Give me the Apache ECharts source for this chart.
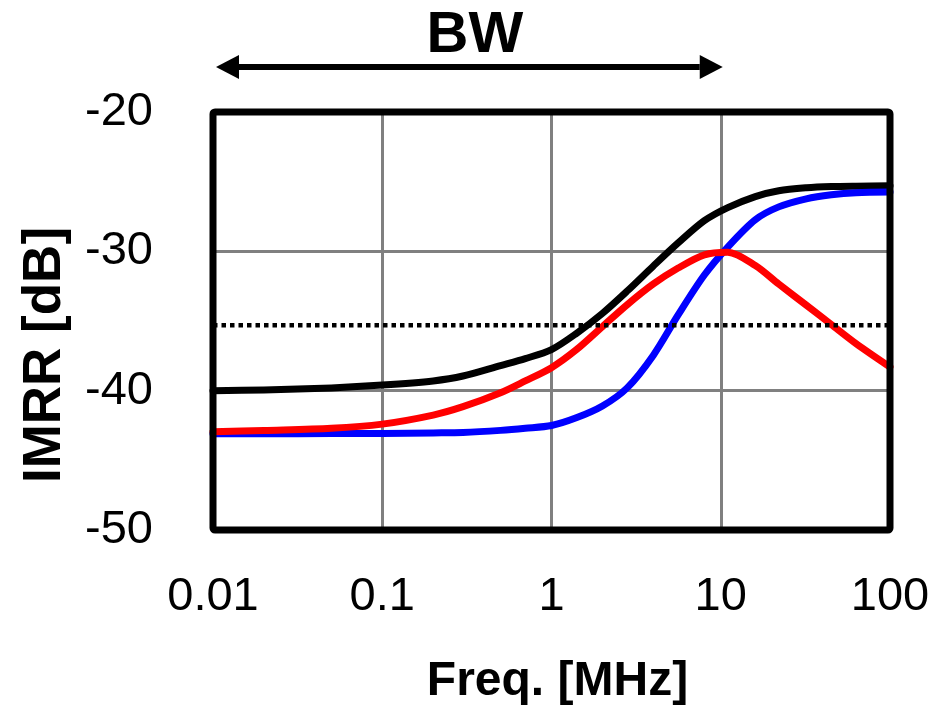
<!DOCTYPE html>
<html>
<head>
<meta charset="utf-8">
<script src="https://cdn.jsdelivr.net/npm/echarts@6/dist/echarts.min.js"></script>
<style>
  html, body { margin: 0; padding: 0; background: #ffffff; }
  #chart { width: 940px; height: 711px; }
</style>
</head>
<body>
<div id="chart"></div>
<script>
// Frequency sweep points (MHz) shared by the three IMRR traces
const freqMHz = [0.01, 0.02, 0.05, 0.1, 0.2, 0.3, 0.5, 0.7, 1, 1.4, 2, 2.8, 4, 5.6, 8, 11, 16, 22, 32, 45, 63, 100];

// IMRR traces (dB)
const imrrBlack = [-40.0, -39.95, -39.8, -39.6, -39.3, -38.95, -38.2, -37.7, -37.05, -35.9, -34.45, -32.85, -31.05, -29.4, -27.8, -26.86, -26.07, -25.65, -25.44, -25.35, -25.32, -25.3];
const imrrBlue  = [-43.1, -43.1, -43.08, -43.07, -43.03, -43.0, -42.85, -42.7, -42.5, -41.95, -41.1, -39.8, -37.45, -34.56, -31.7, -29.69, -27.73, -26.81, -26.23, -25.94, -25.79, -25.74];
const imrrRed   = [-42.95, -42.85, -42.7, -42.4, -41.75, -41.15, -40.15, -39.3, -38.35, -37.07, -35.4, -33.83, -32.34, -31.2, -30.25, -30.06, -31.02, -32.35, -33.86, -35.25, -36.62, -38.3];

// Reference level (dotted) and its frequency extent
const refLevel = -35.3;
const refSpan = [0.01, 115];

// Bandwidth arrow extent (MHz)
const bwSpan = [0.01, 10];

// Axis tick labels
const xTickLabels = ['0.01', '0.1', '1', '10', '100'];
const yTickLabels = ['-50', '-40', '-30', '-20'];

const pairs = (xs, ys) => xs.map((x, i) => [x, ys[i]]);

const chart = echarts.init(document.getElementById('chart'), null, { renderer: 'canvas' });

const traceStyle = (color) => ({
  type: 'line',
  smooth: 0.3,
  showSymbol: false,
  symbol: 'none',
  lineStyle: { color: color, width: 7, cap: 'round', join: 'round' },
  animation: false
});

chart.setOption({
  animation: false,
  backgroundColor: '#ffffff',
  grid: { left: 213, right: 50, top: 112, bottom: 178 },
  xAxis: {
    type: 'log',
    logBase: 10,
    min: 0.01,
    max: 100,
    axisLine: { show: false },
    axisTick: { show: false },
    splitLine: { show: true, lineStyle: { color: '#808080', width: 3 } },
    axisLabel: {
      margin: 44,
      fontSize: 47,
      color: '#000000',
      fontFamily: '"Liberation Sans", Arial, sans-serif',
      formatter: (v) => xTickLabels[Math.round(Math.log10(v)) + 2]
    },
    name: 'Freq. [MHz]',
    nameLocation: 'middle',
    nameGap: 128,
    nameTextStyle: {
      fontSize: 48,
      fontWeight: 'bold',
      color: '#000000',
      fontFamily: '"Liberation Sans", Arial, sans-serif',
      padding: [0, 0, 0, 12]
    }
  },
  yAxis: {
    type: 'value',
    min: -50,
    max: -20,
    interval: 10,
    axisLine: { show: false },
    axisTick: { show: false },
    splitLine: { show: true, lineStyle: { color: '#808080', width: 3 } },
    axisLabel: {
      margin: 60,
      fontSize: 47,
      color: '#000000',
      fontFamily: '"Liberation Sans", Arial, sans-serif',
      formatter: (v) => yTickLabels[Math.round((v + 50) / 10)]
    },
    name: 'IMRR [dB]',
    nameLocation: 'middle',
    nameGap: 141,
    nameTextStyle: {
      fontSize: 53,
      fontWeight: 'bold',
      color: '#000000',
      fontFamily: '"Liberation Sans", Arial, sans-serif',
      padding: [0, 68, 0, 0]
    }
  },
  series: [
    Object.assign(traceStyle('#000000'), { name: 'black', data: pairs(freqMHz, imrrBlack), z: 3 }),
    Object.assign(traceStyle('#0000ff'), { name: 'blue', data: pairs(freqMHz, imrrBlue), z: 3 }),
    Object.assign(traceStyle('#ff0000'), { name: 'red', data: pairs(freqMHz, imrrRed), z: 4 }),
    {
      type: 'line',
      name: 'ref',
      data: refSpan.map((f) => [f, refLevel]),
      clip: false,
      showSymbol: false,
      symbol: 'none',
      lineStyle: { color: '#000000', width: 4.5, type: [4.5, 4] },
      z: 5
    }
  ]
});

// Plot frame and bandwidth annotation placed from the axis scales
const tl = chart.convertToPixel({ gridIndex: 0 }, [0.01, -20]);
const br = chart.convertToPixel({ gridIndex: 0 }, [100, -50]);
const bwL = chart.convertToPixel({ gridIndex: 0 }, [bwSpan[0], -20])[0];
const bwR = chart.convertToPixel({ gridIndex: 0 }, [bwSpan[1], -20])[0];
const arrowY = 67;
const headLen = 23, headHalf = 12;

chart.setOption({
  graphic: [
    {
      type: 'rect',
      z: 100,
      shape: { x: tl[0], y: tl[1], width: br[0] - tl[0], height: br[1] - tl[1], r: 2 },
      style: { fill: null, stroke: '#000000', lineWidth: 7, lineJoin: 'round' }
    },
    {
      type: 'line',
      z: 100,
      shape: { x1: bwL + headLen - 2, y1: arrowY, x2: bwR - headLen + 2, y2: arrowY },
      style: { stroke: '#000000', lineWidth: 6 }
    },
    {
      type: 'polygon',
      z: 100,
      shape: { points: [[bwL + 3, arrowY], [bwL + 3 + headLen, arrowY - headHalf], [bwL + 3 + headLen, arrowY + headHalf]] },
      style: { fill: '#000000' }
    },
    {
      type: 'polygon',
      z: 100,
      shape: { points: [[bwR + 2, arrowY], [bwR + 2 - headLen, arrowY - headHalf], [bwR + 2 - headLen, arrowY + headHalf]] },
      style: { fill: '#000000' }
    },
    {
      type: 'text',
      z: 100,
      x: (bwL + bwR) / 2 + 8,
      y: 36,
      style: {
        text: 'BW',
        fontSize: 58,
        fontWeight: 'bold',
        fontFamily: '"Liberation Sans", Arial, sans-serif',
        fill: '#000000',
        align: 'center',
        verticalAlign: 'middle'
      }
    }
  ]
});
</script>
</body>
</html>
